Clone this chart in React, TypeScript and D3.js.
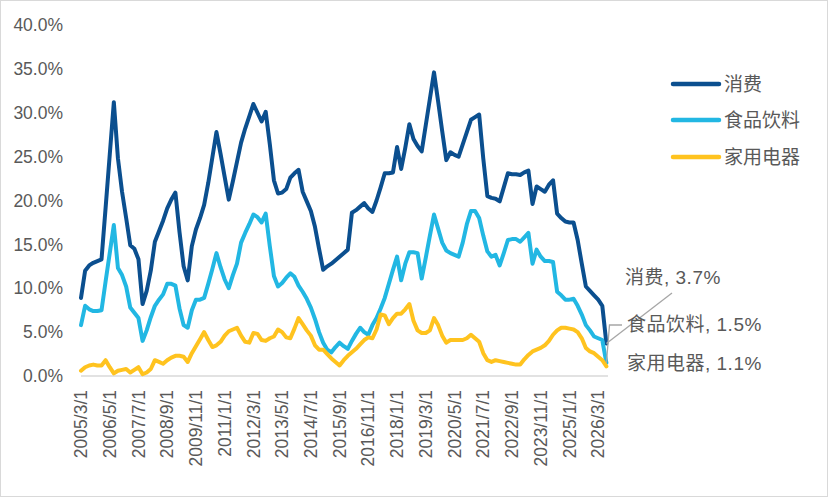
import * as d3 from 'd3';

// bimonthly observations, 2005/3/1 .. 2026/7/1
const categories = d3.timeMonth
  .range(new Date(2005, 2, 1), new Date(2026, 8, 1), 2)
  .map(d => `${d.getFullYear()}/${d.getMonth() + 1}/1`);

const tickLabels = [
  '2005/3/1', '2006/5/1', '2007/7/1', '2008/9/1', '2009/11/1', '2011/1/1', '2012/3/1',
  '2013/5/1', '2014/7/1', '2015/9/1', '2016/11/1', '2018/1/1', '2019/3/1', '2020/5/1',
  '2021/7/1', '2022/9/1', '2023/11/1', '2025/1/1', '2026/3/1',
];

const yTickValues = [0, 5, 10, 15, 20, 25, 30, 35, 40];

const consumption = [
  8.9, 12.0, 12.6, 12.9, 13.1, 13.3, 19.2, 25.2, 31.2, 24.8,
  21.0, 18.0, 14.9, 14.5, 13.3, 8.2, 9.7, 12.0, 15.3, 16.5,
  17.7, 19.1, 20.1, 20.9, 16.4, 12.5, 10.9, 14.8, 16.7, 18.0,
  19.5, 22.0, 24.9, 27.8, 25.3, 22.7, 20.1, 22.2, 24.4, 26.6,
  28.2, 29.6, 31.0, 30.0, 29.0, 30.1, 26.4, 22.3, 20.8, 20.9,
  21.3, 22.6, 23.1, 23.5, 21.0, 19.9, 18.8, 17.0, 14.5, 12.1,
  12.5, 12.8, 13.2, 13.6, 14.0, 14.4, 18.6, 18.9, 19.3, 19.7,
  19.1, 18.7, 20.0, 21.5, 23.1, 23.1, 23.2, 26.1, 23.6, 26.0,
  28.7, 27.0, 26.2, 25.6, 28.6, 31.6, 34.6, 31.3, 27.9, 24.6,
  25.5, 25.2, 25.0, 26.4, 27.8, 29.2, 29.5, 29.8, 24.8, 20.5,
  20.3, 20.2, 19.9, 21.5, 23.1, 23.0, 23.0, 22.9, 23.2, 23.4,
  19.6, 21.6, 21.3, 21.0, 21.8, 22.3, 18.5, 18.0, 17.6, 17.5,
  17.5, 15.5, 12.8, 10.2, 9.7, 9.2, 8.7, 8.0, 3.7,
];

const foodBeverage = [
  5.8, 8.0, 7.6, 7.4, 7.4, 7.5, 10.8, 14.0, 17.2, 12.3,
  11.5, 10.2, 7.8, 7.2, 6.6, 4.0, 5.2, 6.7, 8.0, 8.7,
  9.3, 10.5, 10.5, 10.3, 7.7, 5.8, 5.5, 7.5, 8.7, 8.7,
  8.9, 10.5, 12.2, 14.0, 12.4, 11.0, 10.0, 11.5, 12.8, 15.2,
  16.3, 17.3, 18.4, 18.1, 17.5, 18.5, 14.8, 11.4, 10.2, 10.6,
  11.2, 11.7, 11.3, 10.3, 9.6, 8.8, 7.8, 6.5, 5.0, 3.8,
  3.0, 2.7, 3.3, 3.8, 3.4, 3.1, 4.0, 4.8, 5.5, 5.0,
  4.7, 5.8, 6.6, 7.7, 8.9, 10.5, 12.1, 13.6, 10.9, 12.8,
  14.1, 14.1, 14.0, 11.1, 13.5, 16.0, 18.4, 16.8, 15.2, 14.3,
  14.0, 13.8, 13.6, 15.2, 17.3, 18.8, 18.8, 18.0, 16.0, 14.2,
  13.6, 13.8, 12.6, 14.0, 15.5, 15.6, 15.6, 15.3, 15.8, 16.3,
  12.8, 14.4, 13.6, 13.1, 13.1, 13.0, 9.6, 9.2, 8.7, 8.7,
  8.8, 8.0, 7.0, 5.8, 5.2, 4.5, 4.3, 4.1, 1.5,
];

const appliances = [
  0.6, 1.0, 1.2, 1.3, 1.2, 1.2, 1.8, 1.0, 0.3, 0.6,
  0.7, 0.8, 0.4, 0.7, 1.0, 0.2, 0.4, 0.8, 1.8, 1.6,
  1.4, 1.8, 2.1, 2.3, 2.3, 2.2, 1.6, 2.6, 3.4, 4.2,
  5.0, 4.1, 3.3, 3.5, 3.9, 4.6, 5.1, 5.3, 5.5, 4.6,
  3.9, 3.8, 4.9, 4.8, 4.1, 4.0, 4.3, 4.5, 5.3, 5.0,
  4.4, 4.3, 5.4, 6.6, 5.9, 5.2, 4.6, 3.5, 3.0, 3.0,
  2.5, 2.0, 1.6, 1.2, 1.8, 2.3, 2.7, 3.1, 3.6, 4.1,
  4.4, 4.3, 5.3, 7.0, 6.9, 5.9, 6.6, 7.1, 7.1, 7.6,
  8.2, 6.3, 5.2, 4.9, 4.9, 5.2, 6.6, 5.8, 4.6, 3.8,
  4.1, 4.1, 4.1, 4.1, 4.3, 4.7, 4.3, 3.9, 2.6, 1.8,
  1.6, 1.8, 1.7, 1.6, 1.5, 1.4, 1.3, 1.3, 1.9, 2.4,
  2.8, 3.0, 3.2, 3.5, 4.0, 4.7, 5.2, 5.5, 5.5, 5.4,
  5.3, 5.0, 4.3, 3.2, 2.8, 2.6, 2.2, 1.8, 1.1,
];

const seriesNames = ['消费', '食品饮料', '家用电器'];
const seriesValues = [consumption, foodBeverage, appliances];
const colors = ['#0B4F8F', '#22B7E3', '#FFC31F'];

const W = 828;
const H = 497;
const FONT = '"Liberation Sans", Arial, "Noto Sans CJK SC", sans-serif';
const TEXT = '#595959';

const App = () => {
  const x = d3.scalePoint<string>().domain(categories).range([81, 606.4]);
  const y = d3.scaleLinear().domain([0, 40]).range([376, 25]);

  const line = d3.line<number>()
    .x((_, i) => x(categories[i]) as number)
    .y(d => y(d));

  const lastCat = categories[categories.length - 1];
  const endX = x(lastCat) as number;

  // end-of-series data labels
  const labelPos = [
    { lx: 625, ly: 277 },
    { lx: 627, ly: 324 },
    { lx: 627, ly: 363 },
  ];

  return (
    <>
      <style>{'body{margin:0}'}</style>
      <svg width={W} height={H} style={{ display: 'block', fontFamily: FONT }}>
        <rect x={0.5} y={0.5} width={W - 1} height={H - 1} fill="#fff" stroke="#D9D9D9" />

        {/* y axis labels */}
        {yTickValues.map(v => (
          <text key={v} x={63} y={y(v)} dy="0.35em" textAnchor="end" fontSize={17.5} fill={TEXT}>
            {`${v.toFixed(1)}%`}
          </text>
        ))}

        {/* x axis */}
        <line x1={81} x2={608} y1={y(0)} y2={y(0)} stroke="#D9D9D9" strokeWidth={1.5} />
        {tickLabels.map(t => (
          <text
            key={t}
            transform={`translate(${x(t)},390) rotate(-90)`}
            dy="0.35em"
            textAnchor="end"
            fontSize={17.5}
            fill={TEXT}
          >
            {t}
          </text>
        ))}

        {/* series */}
        {seriesValues.map((vals, k) => (
          <path
            key={seriesNames[k]}
            d={line(vals) ?? ''}
            fill="none"
            stroke={colors[k]}
            strokeWidth={4}
            strokeLinejoin="round"
            strokeLinecap="round"
          />
        ))}

        {/* leader lines */}
        <line x1={endX} y1={y(consumption[consumption.length - 1])} x2={672} y2={293}
          stroke="#A6A6A6" strokeWidth={1.3} />
        <polyline
          points={`${endX},${y(foodBeverage[foodBeverage.length - 1])} 609.5,325 622,325`}
          fill="none" stroke="#A6A6A6" strokeWidth={1.3} />

        {seriesValues.map((vals, k) => (
          <text key={k} x={labelPos[k].lx} y={labelPos[k].ly} dy="0.35em" fontSize={19}
            letterSpacing={0.5} fill={TEXT}>
            {`${seriesNames[k]}, ${vals[vals.length - 1].toFixed(1)}%`}
          </text>
        ))}

        {/* legend */}
        {seriesNames.map((name, k) => {
          const ly = [84, 120, 157][k];
          return (
            <g key={name}>
              <line x1={673} x2={719} y1={ly} y2={ly} stroke={colors[k]} strokeWidth={4.5} strokeLinecap="round" />
              <text x={724} y={ly} dy="0.35em" fontSize={19} fill={TEXT}>{name}</text>
            </g>
          );
        })}
      </svg>
    </>
  );
};

export default App;
